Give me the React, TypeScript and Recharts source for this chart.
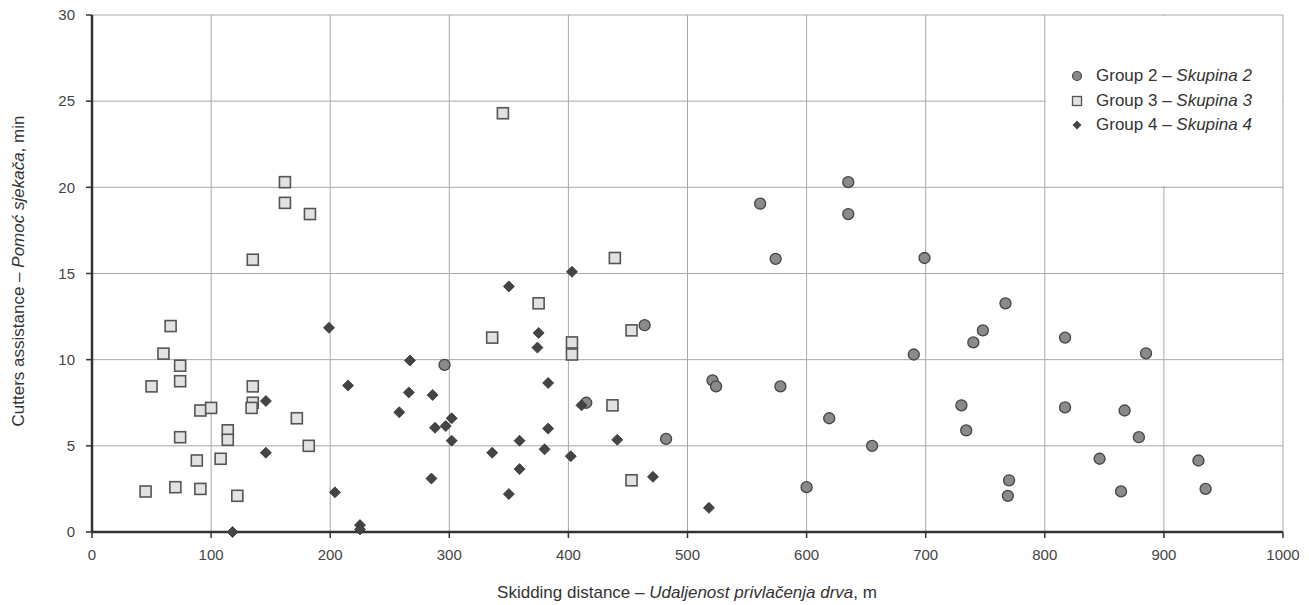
import React from 'react';
import { ScatterChart, Scatter, XAxis, YAxis, CartesianGrid } from 'recharts';

const group2X = [296, 464, 415, 482, 521, 524, 578, 561, 635, 635, 574, 699, 600, 619, 655, 690, 730, 734, 740, 748, 767, 770, 769, 817, 817, 846, 864, 867, 879, 885, 929, 935];
const group2Y = [9.7, 12.0, 7.5, 5.4, 8.8, 8.45, 8.45, 19.05, 20.3, 18.45, 15.85, 15.9, 2.6, 6.6, 5.0, 10.3, 7.35, 5.9, 11.0, 11.7, 13.27, 3.0, 2.1, 11.28, 7.23, 4.25, 2.36, 7.05, 5.5, 10.37, 4.15, 2.5];

const group3X = [162, 162, 183, 135, 66, 60, 74, 74, 50, 135, 135, 134, 91, 100, 172, 114, 114, 74, 182, 88, 108, 45, 70, 91, 122, 345, 439, 375, 336, 403, 403, 453, 437, 453];
const group3Y = [20.3, 19.1, 18.45, 15.8, 11.95, 10.35, 9.65, 8.75, 8.45, 8.45, 7.5, 7.2, 7.05, 7.2, 6.6, 5.9, 5.35, 5.5, 5.0, 4.15, 4.25, 2.35, 2.6, 2.5, 2.1, 24.3, 15.9, 13.27, 11.28, 11.0, 10.3, 11.7, 7.35, 3.0];

const group4X = [146, 146, 118, 199, 215, 204, 225, 225, 267, 266, 258, 286, 288, 297, 302, 302, 285, 350, 403, 375, 374, 383, 383, 359, 380, 336, 402, 359, 350, 411, 441, 471, 518];
const group4Y = [7.6, 4.6, 0.0, 11.85, 8.5, 2.3, 0.4, 0.15, 9.95, 8.1, 6.95, 7.95, 6.05, 6.15, 6.6, 5.3, 3.1, 14.25, 15.1, 11.55, 10.7, 8.65, 6.0, 5.3, 4.8, 4.6, 4.4, 3.65, 2.2, 7.35, 5.35, 3.2, 1.4];

const xTicks = [0, 100, 200, 300, 400, 500, 600, 700, 800, 900, 1000];
const yTicks = [0, 5, 10, 15, 20, 25, 30];

const toPoints = (xs: number[], ys: number[]) => xs.map((x, i) => ({ x, y: ys[i] }));
const data2 = toPoints(group2X, group2Y);
const data3 = toPoints(group3X, group3Y);
const data4 = toPoints(group4X, group4Y);

const FONT = '"Liberation Sans", Arial, sans-serif';

const CircleShape = (p: any) => (
  <circle cx={p.cx} cy={p.cy} r={5.5} fill="#8a8a8a" stroke="#444" strokeWidth={1.3} />
);
const SquareShape = (p: any) => (
  <rect x={p.cx - 5.5} y={p.cy - 5.5} width={11} height={11} fill="#e2e2e2" stroke="#555" strokeWidth={1.6} />
);
const DiamondShape = (p: any) => (
  <path d={`M${p.cx},${p.cy - 5.5} L${p.cx + 5.5},${p.cy} L${p.cx},${p.cy + 5.5} L${p.cx - 5.5},${p.cy} Z`} fill="#444" stroke="#333" strokeWidth={0.8} />
);

const legendItems = [
  { g: 'Group 2 – ', s: 'Skupina 2', kind: 'circle' },
  { g: 'Group 3 – ', s: 'Skupina 3', kind: 'square' },
  { g: 'Group 4 – ', s: 'Skupina 4', kind: 'diamond' },
];

const LegendBox = () => (
  <div style={{ position: 'absolute', left: 1046, top: 16, width: 236, height: 170, background: '#fff', fontFamily: FONT, fontSize: 17, color: '#333' }}>
    {legendItems.map((it, i) => (
      <div key={it.s} style={{ position: 'absolute', left: 24, top: 47 + i * 24.5, height: 26, display: 'flex', alignItems: 'center', whiteSpace: 'nowrap' }}>
        <svg width={14} height={14} style={{ marginRight: 12 }}>
          {it.kind === 'circle' && <circle cx={7} cy={7} r={4.5} fill="#8a8a8a" stroke="#444" strokeWidth={1.2} />}
          {it.kind === 'square' && <rect x={2.5} y={2.5} width={9} height={9} fill="#e2e2e2" stroke="#555" strokeWidth={1.3} />}
          {it.kind === 'diamond' && <path d="M7,2.5 L11.5,7 L7,11.5 L2.5,7 Z" fill="#444" />}
        </svg>
        <span>{it.g}<i>{it.s}</i></span>
      </div>
    ))}
  </div>
);

const YLabel = () => (
  <text x={0} y={0} transform="translate(24, 271) rotate(-90)" textAnchor="middle" fontFamily={FONT} fontSize={17} fill="#333">
    Cutters assistance – <tspan fontStyle="italic">Pomoć sjekača</tspan>, min
  </text>
);

const XLabel = () => (
  <text x={687} y={598} textAnchor="middle" fontFamily={FONT} fontSize={17} fill="#333">
    Skidding distance – <tspan fontStyle="italic">Udaljenost privlačenja drva</tspan>, m
  </text>
);

export default function App() {
  return (
    <div style={{ position: 'absolute', left: 0, top: 0, width: 1309, height: 605, background: '#fff' }}>
      <ScatterChart width={1309} height={605} margin={{ top: 15, right: 26, bottom: 0, left: 0 }}>
        <CartesianGrid stroke="#a8a8a8" strokeWidth={1} horizontalValues={yTicks} verticalValues={xTicks} />
        <XAxis
          type="number"
          dataKey="x"
          domain={[0, 1000]}
          ticks={xTicks}
          height={73}
          axisLine={{ stroke: '#333', strokeWidth: 2.5 }}
          tickLine={{ stroke: '#333', strokeWidth: 1.5 }}
          tickSize={6}
          tickMargin={11}
          tick={{ fontFamily: FONT, fontSize: 15, fill: '#444' }}
          label={<XLabel />}
          interval={0}
        />
        <YAxis
          type="number"
          dataKey="y"
          domain={[0, 30]}
          ticks={yTicks}
          width={92}
          axisLine={{ stroke: '#333', strokeWidth: 2.5 }}
          tickLine={{ stroke: '#333', strokeWidth: 1.5 }}
          tickSize={6}
          tickMargin={11}
          tick={{ fontFamily: FONT, fontSize: 15, fill: '#444' }}
          label={<YLabel />}
          interval={0}
        />
        <Scatter name="Group 2 – Skupina 2" data={data2} shape={CircleShape} isAnimationActive={false} />
        <Scatter name="Group 3 – Skupina 3" data={data3} shape={SquareShape} isAnimationActive={false} />
        <Scatter name="Group 4 – Skupina 4" data={data4} shape={DiamondShape} isAnimationActive={false} />
      </ScatterChart>
      <LegendBox />
    </div>
  );
}
